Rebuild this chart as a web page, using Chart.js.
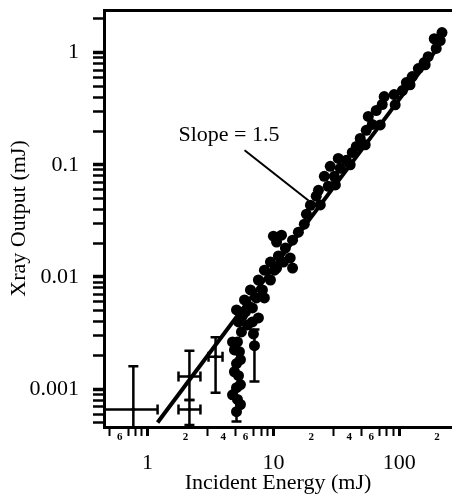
<!DOCTYPE html>
<html>
<head>
<meta charset="utf-8">
<script src="https://cdn.jsdelivr.net/npm/chart.js@4.4.1/dist/chart.umd.min.js"></script>
<style>
  html, body { margin: 0; padding: 0; background: #fff; }
  #wrap { width: 452px; height: 500px; }
</style>
</head>
<body>
<div id="wrap"><canvas id="grafico" width="452" height="500"></canvas></div>
<script>
/* datos (mJ) */
const energia = [5.09, 5.18, 5.09, 5.28, 5.09, 5.37, 5.18, 5.57, 5.28, 6.94, 7.07, 6.81,
  6.00, 6.81, 5.89, 7.33, 6.57, 8.18, 7.60, 9.47, 8.48, 10.2, 9.47, 10.96, 12.45, 14.2,
  15.8, 17.6, 18.3, 19.7, 21.9, 22.8, 27.3, 25.4, 30.5, 34.0, 28.3, 38.0, 32.8, 42.4,
  45.6, 49.0, 54.7, 61.1, 56.8, 65.7, 73.3, 76.0, 91.2, 106, 114, 127, 142, 158, 170,
  197, 212, 219, 190,
  13.6, 14.2, 10.0, 11.6, 10.6,
  4.73, 5.47, 4.73, 6.22, 7.60, 5.09, 8.48, 10.6, 12.0,
  5.47, 4.90, 5.47, 4.90, 5.67, 6.33,
  23.6, 31.1, 40.8, 53.7, 70.7, 92.9, 122, 161];
const salida_xray = [0.00063, 0.00081, 0.00103, 0.00132, 0.00169, 0.00216, 0.00264, 0.00324, 0.00398, 0.00311, 0.00244, 0.00398,
  0.00489, 0.0053, 0.00625, 0.00651, 0.00766, 0.00766, 0.0094, 0.0094, 0.0115, 0.0115, 0.0136, 0.0154, 0.0181, 0.0213,
  0.0251, 0.0296, 0.0363, 0.0436, 0.0525, 0.0593, 0.0644, 0.079, 0.079, 0.0931, 0.097, 0.1096, 0.114, 0.129,
  0.146, 0.172, 0.203, 0.229, 0.270, 0.305, 0.345, 0.406, 0.423, 0.459, 0.541, 0.612, 0.721, 0.815, 0.921,
  1.09, 1.28, 1.51, 1.33,
  0.0148, 0.0120, 0.0231, 0.0236, 0.0205,
  0.00089, 0.0011, 0.00264, 0.00374, 0.00432, 0.00509, 0.00651, 0.0120, 0.0136,
  0.00073, 0.00143, 0.00183, 0.00224, 0.0045, 0.00552,
  0.0439, 0.0662, 0.0999, 0.151, 0.227, 0.343, 0.517, 0.780];

/* puntos con barras de error */
const err_x = [0.77, 2.15, 2.15, 3.47, 5.09, 7.07];
const err_y = [0.00066, 0.0013, 0.00066, 0.00195, 0.00063, 0.00244];
const err_x_min = [0.40, 1.76, 1.76, 3.05, 5.09, 7.07];
const err_x_max = [1.2, 2.63, 2.63, 3.94, 5.09, 7.07];
const err_y_min = [0.0003, 0.0008, 0.00048, 0.00093, 0.000514, 0.00117];
const err_y_max = [0.0016, 0.0022, 0.0008, 0.0029, 0.001, 0.0034];

/* recta de pendiente 1.5 y su etiqueta */
const recta_x = [1.2, 200];
const recta_y = [0.000504, 1.08];
const flecha_x = [5.9, 19.0];
const flecha_y = [0.135, 0.048];
const texto_pendiente = "Slope = 1.5";
const texto_pos = [1.76, 0.183];

/* marcas de los ejes */
const ticks_x = [0.5, 0.6, 0.7, 0.8, 0.9, 1, 2, 3, 4, 5, 6, 7, 8, 9, 10,
  20, 30, 40, 50, 60, 70, 80, 90, 100, 200];
const x_menor_valores = [0.6, 2, 4, 6, 20, 40, 60, 200];
const x_menor_textos = ["6", "2", "4", "6", "2", "4", "6", "2"];
const x_mayor_valores = [1, 10, 100];
const x_mayor_textos = ["1", "10", "100"];
const ticks_y = [0.0005, 0.0006, 0.0007, 0.0008, 0.0009, 0.001,
  0.002, 0.003, 0.004, 0.005, 0.006, 0.007, 0.008, 0.009, 0.01,
  0.02, 0.03, 0.04, 0.05, 0.06, 0.07, 0.08, 0.09, 0.1,
  0.2, 0.3, 0.4, 0.5, 0.6, 0.7, 0.8, 0.9, 1, 2];
const y_mayor_valores = [0.001, 0.01, 0.1, 1];
const y_mayor_textos = ["0.001", "0.01", "0.1", "1"];

const fuente = '"Liberation Serif", "Times New Roman", serif';
const x_min = 0.45, x_max = 263, y_min = 0.00046, y_max = 2.4;

function es_cerca(a, b) { return Math.abs(a / b - 1) < 1e-6; }
function buscar(valores, v) { return valores.findIndex(w => es_cerca(w, v)); }

/* barras de error y texto de la pendiente */
const dibujo_extra = {
  id: "dibujo_extra",
  afterDatasetsDraw(chart) {
    const { ctx, chartArea, scales: { x, y } } = chart;
    ctx.save();
    ctx.beginPath();
    ctx.rect(chartArea.left, chartArea.top, chartArea.right - chartArea.left, chartArea.bottom - chartArea.top);
    ctx.clip();
    ctx.strokeStyle = "#000";
    ctx.lineWidth = 2.5;
    const tapa = 5;
    for (let i = 0; i < err_x.length; i++) {
      const px = x.getPixelForValue(err_x[i]);
      const py = y.getPixelForValue(err_y[i]);
      const x0 = x.getPixelForValue(err_x_min[i]);
      const x1 = x.getPixelForValue(err_x_max[i]);
      const y0 = y.getPixelForValue(err_y_min[i]);
      const y1 = y.getPixelForValue(err_y_max[i]);
      ctx.beginPath();
      ctx.moveTo(px, y0); ctx.lineTo(px, y1);
      ctx.moveTo(px - tapa, y0); ctx.lineTo(px + tapa, y0);
      ctx.moveTo(px - tapa, y1); ctx.lineTo(px + tapa, y1);
      if (x1 - x0 > 1) {
        ctx.moveTo(x0, py); ctx.lineTo(x1, py);
        ctx.moveTo(x0, py - tapa); ctx.lineTo(x0, py + tapa);
        ctx.moveTo(x1, py - tapa); ctx.lineTo(x1, py + tapa);
      }
      ctx.stroke();
    }
    ctx.restore();

    ctx.save();
    ctx.font = "22px " + fuente;
    ctx.fillStyle = "#000";
    ctx.textBaseline = "middle";
    ctx.textAlign = "left";
    ctx.fillText(texto_pendiente, x.getPixelForValue(texto_pos[0]), y.getPixelForValue(texto_pos[1]));
    ctx.restore();
  }
};

const puntos = energia.map((e, i) => ({ x: e, y: salida_xray[i] }));
const recta = recta_x.map((e, i) => ({ x: e, y: recta_y[i] }));
const flecha = flecha_x.map((e, i) => ({ x: e, y: flecha_y[i] }));
const centros_err = err_x.map((e, i) => ({ x: e, y: err_y[i] }));

const config = {
  type: "scatter",
  data: {
    datasets: [
      { data: recta, showLine: true, borderColor: "#000", borderWidth: 4, pointRadius: 0 },
      { data: flecha, showLine: true, borderColor: "#000", borderWidth: 2, pointRadius: 0 },
      { data: puntos, backgroundColor: "#000", borderColor: "#000", pointRadius: 5.5, borderWidth: 0 },
      { data: centros_err, backgroundColor: "#000", borderColor: "#000", pointRadius: 2, borderWidth: 0 }
    ]
  },
  options: {
    responsive: false,
    animation: false,
    layout: { autoPadding: false, padding: { left: 8, top: 10, right: 0, bottom: 0 } },
    plugins: { legend: { display: false }, tooltip: { enabled: false } },
    scales: {
      x: {
        type: "logarithmic", position: "bottom", min: x_min, max: x_max, weight: 0,
        afterBuildTicks: (scale) => { scale.ticks = ticks_x.map(v => ({ value: v })); },
        afterFit: (scale) => { scale.height = 17; scale.paddingLeft = 0; scale.paddingRight = 0; },
        grid: {
          drawOnChartArea: false, drawTicks: true, tickLength: 9, color: "#000",
          tickWidth: (c) => (c.tick && buscar(x_mayor_valores, c.tick.value) >= 0) ? 3 : 2,
          tickColor: (c) => (c.tick && buscar(x_menor_valores, c.tick.value) >= 0) ? "rgba(0,0,0,0)" : "#000"
        },
        border: { display: true, color: "#000", width: 3 },
        ticks: {
          autoSkip: false, maxRotation: 0, padding: -5, color: "#000",
          font: (c) => ({ family: fuente, size: (c.tick && buscar(x_menor_valores, c.tick.value) >= 0) ? 11 : 1, weight: "bold" }),
          callback: (v) => { const k = buscar(x_menor_valores, v); return k >= 0 ? x_menor_textos[k] : ""; }
        }
      },
      x2: {
        type: "logarithmic", position: "bottom", min: x_min, max: x_max, weight: 1,
        afterBuildTicks: (scale) => { scale.ticks = x_mayor_valores.map(v => ({ value: v })); },
        afterFit: (scale) => { scale.height = 56; scale.paddingLeft = 0; scale.paddingRight = 0; },
        grid: { display: false, drawTicks: false },
        border: { display: false },
        ticks: {
          autoSkip: false, maxRotation: 0, padding: 8, color: "#000",
          font: { family: fuente, size: 22, lineHeight: 1 },
          callback: (v) => { const k = buscar(x_mayor_valores, v); return k >= 0 ? x_mayor_textos[k] : ""; }
        },
        title: { display: true, text: "Incident Energy (mJ)", color: "#000", font: { family: fuente, size: 22, lineHeight: 1 }, padding: { top: 0, bottom: 6 } }
      },
      x_arriba: {
        type: "logarithmic", position: "top", min: x_min, max: x_max,
        afterFit: (scale) => { scale.height = 0; scale.paddingLeft = 0; scale.paddingRight = 0; },
        grid: { display: false, drawTicks: false },
        border: { display: true, color: "#000", width: 3 },
        ticks: { display: false }
      },
      y: {
        type: "logarithmic", position: "left", min: y_min, max: y_max,
        afterBuildTicks: (scale) => { scale.ticks = ticks_y.map(v => ({ value: v })); },
        afterFit: (scale) => { scale.width = 96; scale.paddingTop = 0; scale.paddingBottom = 0; },
        grid: {
          drawOnChartArea: false, drawTicks: true, tickLength: 11, color: "#000",
          tickWidth: (c) => (c.tick && buscar(y_mayor_valores, c.tick.value) >= 0) ? 3.5 : 2.5,
          tickColor: "#000"
        },
        border: { display: true, color: "#000", width: 3 },
        ticks: {
          autoSkip: false, padding: 14, color: "#000",
          font: (c) => ({ family: fuente, size: (c.tick && buscar(y_mayor_valores, c.tick.value) >= 0) ? 22 : 1 }),
          callback: (v) => { const k = buscar(y_mayor_valores, v); return k >= 0 ? y_mayor_textos[k] : ""; }
        },
        title: { display: true, text: "Xray Output (mJ)", color: "#000", font: { family: fuente, size: 22, lineHeight: 1 }, padding: { top: 0, bottom: 0 } }
      }
    }
  },
  plugins: [dibujo_extra]
};

const ctx = document.getElementById("grafico").getContext("2d");
const mi_grafico = new Chart(ctx, config);
</script>
</body>
</html>
